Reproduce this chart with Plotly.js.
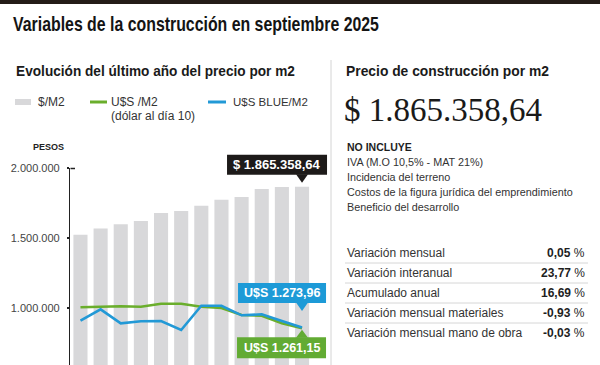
<!DOCTYPE html>
<html>
<head>
<meta charset="utf-8">
<script src="https://cdn.plot.ly/plotly-3.0.1.min.js"></script>
<style>
html,body{margin:0;padding:0;background:#fff;}
#chart{width:600px;height:365px;}
</style>
</head>
<body>
<div id="chart"></div>
<script>
// ---- data ----
const months = ['oct-24','nov-24','dic-24','ene-25','feb-25','mar-25','abr-25','may-25','jun-25','jul-25','ago-25','sep-25'];
const pesosM2 = [1524000,1567000,1598558,1621000,1679000,1693000,1731000,1774000,1793000,1850000,1864426,1865358.64];
const usdOficialM2 = [1576,1585,1591,1585,1630,1630,1585,1566,1461,1450,1336,1261.15];
const usdBlueM2 = [1375,1546,1336,1366,1371,1236,1600,1600,1456,1471,1371,1273.96];
const yTicks = [1000000,1500000,2000000];
const legendLabels = ['$/M2','U$S /M2','(dólar al día 10)','U$S BLUE/M2'];
const noIncluye = ['IVA (M.O 10,5% - MAT 21%)','Incidencia del terreno','Costos de la figura jurídica del emprendimiento','Beneficio del desarrollo'];
const tablaLabels = ['Variación mensual','Variación interanual','Acumulado anual','Variación mensual materiales','Variación mensual mano de obra'];
const tablaValues = ['0,05','23,77','16,69','-0,93','-0,03'];
const precioTexto = '$ 1.865.358,64';
const blueTexto = 'U$S 1.273,96';
const oficialTexto = 'U$S 1.261,15';

// ---- helpers ----
const W = 600, H = 365;
const px = x => x / W;
const py = y => 1 - y / H;
const idx = months.map((m, i) => i);
const last = months.length - 1;

const GRAY = '#d8d8da', GREEN = '#6aae2c', BLUE = '#2299d6', GBOX = '#62ab33', BBOX = '#1d9ad7', DARK = '#1d1a19';
const SANS = 'Liberation Sans, Arial, sans-serif';

const xDom = [px(70.4), px(312.1)], xRange = [-0.5, 11.5];
const yDom = [0, py(168)];
const yRange = [2000000 - (365-168)/140*1000000, 2000000];
const y2Range = [1261.15 - (365-328.3)*15, 1261.15 + (328.3-168)*15];
const lin = (v, r, d) => d[0] + (v - r[0]) / (r[1] - r[0]) * (d[1] - d[0]);

const traces = [
  {type:'bar', x: idx, y: pesosM2, marker:{color: GRAY}, hoverinfo:'skip', showlegend:false},
  {type:'scatter', mode:'lines', x: idx, y: usdOficialM2, yaxis:'y2', line:{color: GREEN, width:2.6}, hoverinfo:'skip', showlegend:false},
  {type:'scatter', mode:'lines', x: idx, y: usdBlueM2, yaxis:'y2', line:{color: BLUE, width:2.6}, hoverinfo:'skip', showlegend:false}
];

const ann = [];
const A = (text, x, y, o) => ann.push(Object.assign({text, x:px(x), y:py(y), xref:'paper', yref:'paper', showarrow:false, xanchor:'left', yanchor:'middle', font:{family:SANS, size:12, color:'#2a2a2a'}}, o||{}));

A('<b>Variables de la construcción en septiembre 2025</b>', 11, 24, {font:{family:SANS, size:20, color:'#141414'}});
A('<b>Evolución del último año del precio por m2</b>', 14, 70, {font:{family:SANS, size:15, color:'#1a1a1a'}});
A('<b>Precio de construcción por m2</b>', 344, 71, {font:{family:SANS, size:15, color:'#1a1a1a'}});
const scaleTargets = [366, 279, 203]; // widths of the first three annotations

// legend
A(legendLabels[0], 36, 102, {font:{family:SANS, size:12, color:'#333'}});
A(legendLabels[1], 109, 102, {font:{family:SANS, size:12, color:'#333'}});
A(legendLabels[2], 109, 116, {font:{family:SANS, size:12, color:'#333'}});
A(legendLabels[3], 231, 102, {font:{family:SANS, size:11.5, color:'#333'}});

A('<b>PESOS</b>', 48, 147, {xanchor:'center', font:{family:SANS, size:9, color:'#222'}});

// right panel
A(precioTexto, 342, 110, {font:{family:'Liberation Serif, Times New Roman, serif', size:33, color:'#1a1a1a'}});
A('<b>NO INCLUYE</b>', 345, 147, {font:{family:SANS, size:10.5, color:'#1e1e1e'}});
noIncluye.forEach((t, i) => A(t, 345, 162 + i * 15, {font:{family:SANS, size:10.8, color:'#333'}}));
tablaLabels.forEach((t, i) => {
  A(t, 345, 253 + i * 20, {font:{family:SANS, size:12, color:'#333'}});
  A('<b>' + tablaValues[i] + '</b> %', 587, 253 + i * 20, {xanchor:'right', font:{family:SANS, size:12, color:'#1e1e1e'}});
});

// tooltips (anchored to data)
ann.push({text:'<b>' + precioTexto + '</b>', x: last, y: pesosM2[last], xref:'x', yref:'y', showarrow:false, xanchor:'center', yanchor:'middle', xshift:-25, yshift:22, font:{family:SANS, size:13, color:'#fff'}});
ann.push({text:'<b>' + blueTexto + '</b>', x: last, y: usdBlueM2[last], xref:'x', yref:'y2', showarrow:false, xanchor:'center', yanchor:'middle', xshift:-20, yshift:34.5, font:{family:SANS, size:12.5, color:'#fff'}});
ann.push({text:'<b>' + oficialTexto + '</b>', x: last, y: usdOficialM2[last], xref:'x', yref:'y2', showarrow:false, xanchor:'center', yanchor:'middle', xshift:-20.5, yshift:-19.5, font:{family:SANS, size:12.5, color:'#fff'}});

const xa = lin(last, xRange, xDom);
const yaP = lin(pesosM2[last], yRange, yDom);
const yaB = lin(usdBlueM2[last], y2Range, yDom);
const yaG = lin(usdOficialM2[last], y2Range, yDom);
const pix = (ya, o) => Object.assign({xref:'paper', yref:'paper', xsizemode:'pixel', ysizemode:'pixel', xanchor: xa, yanchor: ya, line:{width:0}}, o);

const shapes = [
  // top band
  {type:'rect', xref:'paper', yref:'paper', x0:0, x1:1, y0:py(4), y1:py(0), fillcolor:'#241c18', line:{width:0}},
  // divider
  {type:'line', xref:'paper', yref:'paper', x0:px(331), x1:px(331), y0:py(60), y1:py(365), line:{color:'#d4d4d4', width:1}},
  // legend swatches
  {type:'rect', xref:'paper', yref:'paper', x0:px(15), x1:px(31), y0:py(105), y1:py(99), fillcolor:GRAY, line:{width:0}},
  {type:'line', xref:'paper', yref:'paper', x0:px(90), x1:px(107), y0:py(102), y1:py(102), line:{color:GREEN, width:3}},
  {type:'line', xref:'paper', yref:'paper', x0:px(208), x1:px(226), y0:py(102), y1:py(102), line:{color:BLUE, width:3}},
  // axis top stub
  {type:'line', xref:'paper', yref:'paper', x0:px(70.5), x1:px(75), y0:py(168.5), y1:py(168.5), line:{color:'#222', width:1.5}},
  // table separators
  ...[263,283,303,323].map(y => ({type:'line', xref:'paper', yref:'paper', x0:px(345), x1:px(588), y0:py(y), y1:py(y), line:{color:'#d6d6d6', width:1}})),
  // black tooltip
  pix(yaP, {type:'rect', x0:-75, x1:25, y0:12, y1:32, fillcolor:DARK}),
  pix(yaP, {type:'path', path:'M-6,12.5 L6,12.5 L0,4 Z', fillcolor:DARK}),
  // blue tooltip
  pix(yaB, {type:'rect', x0:-64, x1:24, y0:24.5, y1:44.5, fillcolor:BBOX}),
  pix(yaB, {type:'path', path:'M-6,25 L6,25 L0,16.5 Z', fillcolor:BBOX}),
  // green tooltip
  pix(yaG, {type:'rect', x0:-65, x1:24, y0:-9, y1:-30, fillcolor:GBOX}),
  pix(yaG, {type:'path', path:'M-6,-9.5 L6,-9.5 L0,-1.5 Z', fillcolor:GBOX})
];

const layout = {
  width: W, height: H,
  margin:{l:0, r:0, t:0, b:0},
  paper_bgcolor:'#ffffff', plot_bgcolor:'rgba(0,0,0,0)',
  separators:',.',
  bargap:0.3,
  showlegend:false,
  xaxis:{domain:xDom, range:xRange, tickvals: idx, ticktext: months, showticklabels:false, showgrid:false, zeroline:false, showline:false, ticks:'', fixedrange:true},
  yaxis:{domain:yDom, range:yRange, tickvals: yTicks, tickformat:',d', showgrid:false, zeroline:false, showline:true, linecolor:'#222', linewidth:1.5, ticks:'outside', ticklen:2, tickcolor:'#222', tickwidth:1.5, ticklabelstandoff:5, tickfont:{family:SANS, size:11, color:'#444'}, fixedrange:true},
  yaxis2:{overlaying:'y', range:y2Range, visible:false, fixedrange:true},
  annotations: ann,
  shapes: shapes
};

const gd = document.getElementById('chart');
Plotly.newPlot(gd, traces, layout, {displayModeBar:false, staticPlot:true}).then(() => {
  // condense the headline texts horizontally (condensed typeface look)
  scaleTargets.forEach((target, i) => {
    const g = gd.querySelector('.annotation[data-index="' + i + '"]');
    if (!g) return;
    const t = g.querySelector('text.annotation-text');
    if (!t) return;
    const bb = t.getBBox();
    const s = target / bb.width;
    if (s < 1) t.setAttribute('transform', 'translate(' + bb.x + ',0) scale(' + s + ',1) translate(' + (-bb.x) + ',0)');
  });
});
</script>
</body>
</html>
